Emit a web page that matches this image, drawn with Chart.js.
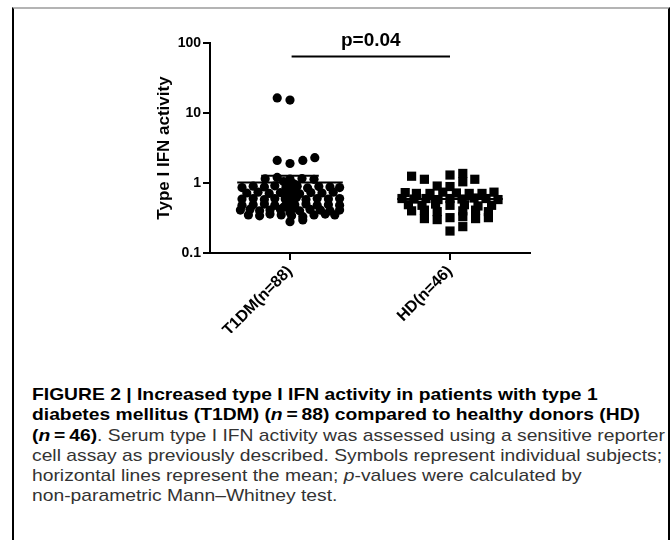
<!DOCTYPE html>
<html>
<head>
<meta charset="utf-8">
<script src="https://cdn.jsdelivr.net/npm/chart.js@4.4.1/dist/chart.umd.min.js"></script>
<style>
  html, body { margin: 0; padding: 0; background: #fff; }
  body { width: 671px; height: 540px; position: relative; overflow: hidden; }
  #frame {
    position: absolute; left: 12px; top: 7px; width: 658px; height: 540px;
    box-sizing: border-box;
    border-left: 2px solid #000; border-right: 2px solid #000; border-top: 2px solid #b4b4b4;
  }
  #wrap { position: absolute; left: 0; top: 0; width: 671px; height: 340px; }
  #caption {
    position: absolute; left: 32px; top: 385px;
    font-family: "Liberation Sans", Arial, sans-serif;
    font-size: 17px; line-height: 20.3px; color: #333; white-space: nowrap;
    transform-origin: 0 0;
  }
  #caption b { color: #000; }
  #caption span { display: inline-block; }
</style>
</head>
<body>
<div id="frame"></div>
<div id="wrap"><canvas id="chart-ifn"></canvas></div>
<div id="caption">
<span><b>FIGURE 2 | Increased type I IFN activity in patients with type 1</b></span><br>
<span><b>diabetes mellitus (T1DM) (<i>n</i>&#8201;=&#8201;88) compared to healthy donors (HD)</b></span><br>
<span><b>(<i>n</i>&#8201;=&#8201;46)</b>. Serum type I IFN activity was assessed using a sensitive reporter</span><br>
<span id="ref-line">cell assay as previously described. Symbols represent individual subjects;</span><br>
<span>horizontal lines represent the mean; <i>p</i>-values were calculated by</span><br>
<span>non-parametric Mann&ndash;Whitney test.</span>
</div>
<script>
//------------------------------------------- data -------------------------------------------
const groups = ['T1DM(n=88)', 'HD(n=46)'];
const groupPos = [0.5, 1.5];
const yTicks = [0.1, 1, 10, 100];

// T1DM subjects: spread around the column (x) and activity (y)
const t1dmSpread = [
    -0.08, 0,
    -0.08, 0, 0.08, 0.155,
    -0.155, -0.08, 0, 0.075, 0.15,
    -0.30, -0.23, -0.16, -0.095, -0.025, 0.045, 0.11, 0.18, 0.25, 0.31,
    -0.27, -0.20, -0.13, -0.06, 0, 0.06, 0.13, 0.20, 0.27,
    -0.30, -0.23, -0.16, -0.095, -0.03, 0.03, 0.10, 0.17, 0.24, 0.31,
    -0.30, -0.23, -0.16, -0.095, -0.03, 0.03, 0.10, 0.17, 0.24, 0.31,
    -0.31, -0.25, -0.19, -0.125, -0.06, 0, 0.06, 0.125, 0.19, 0.25, 0.31,
    -0.26, -0.19, -0.125, -0.055, 0.01, 0.08, 0.15, 0.22, 0.28,
    0, 0.08,
    -0.04, 0.02, 0.04, -0.02, 0.03, -0.03, 0.04, 0, 0.02, -0.04, 0.03, 0, 0.01, -0.01, 0.04, 0.02
];
const t1dmValues = [
    16.4, 15.3,
    2.1, 1.9, 2.1, 2.3,
    1.15, 1.2, 1.14, 1.16, 1.13,
    0.86, 0.9, 0.88, 0.91, 0.87, 0.9, 0.85, 0.89, 0.88, 0.86,
    0.72, 0.74, 0.71, 0.73, 0.72, 0.7, 0.73, 0.72, 0.74,
    0.59, 0.6, 0.58, 0.6, 0.59, 0.61, 0.58, 0.6, 0.59, 0.6,
    0.48, 0.49, 0.5, 0.48, 0.47, 0.49, 0.5, 0.48, 0.49, 0.48,
    0.41, 0.42, 0.4, 0.41, 0.42, 0.41, 0.4, 0.42, 0.41, 0.4, 0.41,
    0.35, 0.34, 0.36, 0.35, 0.34, 0.33, 0.35, 0.36, 0.35,
    0.28, 0.296,
    1.05, 0.98, 0.93, 0.82, 0.78, 0.68, 0.65, 0.55, 0.52, 0.45, 0.44, 0.38, 0.95, 0.8, 0.62, 0.5
];

// healthy donors
const hdSpread = [
    -0.24, -0.16, 0, 0.08, 0.08, 0.155, -0.08, 0,
    -0.28, -0.21, -0.125, -0.045, 0.04, 0.12, 0.20, 0.275,
    -0.30, -0.225, -0.15, -0.075, 0, 0.075, 0.15, 0.225, 0.30,
    -0.26, -0.175, -0.09, 0, 0.09, 0.175, 0.26,
    -0.24, -0.16, -0.08, 0.08, 0.16, 0.24,
    -0.16, -0.08, 0, 0.08, 0.16, 0.24,
    0, 0.08
];
const hdValues = [
    1.25, 1.13, 1.30, 1.37, 1.04, 1.13, 0.905, 0.89,
    0.73, 0.71, 0.71, 0.74, 0.72, 0.71, 0.71, 0.74,
    0.6, 0.59, 0.6, 0.58, 0.6, 0.59, 0.61, 0.6, 0.58,
    0.49, 0.48, 0.5, 0.48, 0.49, 0.47, 0.48,
    0.4, 0.41, 0.39, 0.4, 0.41, 0.39,
    0.31, 0.3, 0.32, 0.33, 0.31, 0.32,
    0.206, 0.238
];

const meanValues = [1.02, 0.59];
const semUpper = 1.27;     // T1DM mean + SEM
const pText = 'p=0.04';
const pLevel = 64;

//------------------------------------------- caption -------------------------------------------
// fit the caption to the printed line length
var refLine = document.getElementById('ref-line');
var caption = document.getElementById('caption');
caption.style.transform = 'scaleX(' + (630 / refLine.getBoundingClientRect().width) + ')';

//------------------------------------------- chart -------------------------------------------
function toPoints(center, spread, values) {
    return values.map((v, i) => ({ x: center + spread[i], y: v }));
}
function hline(x0, x1, y) {
    return [{ x: x0, y: y }, { x: x1, y: y }];
}

Chart.defaults.font.family = '"Liberation Sans", Arial, sans-serif';
Chart.defaults.color = '#000';

const lineStyle = { type: 'line', borderColor: '#000', borderWidth: 2, pointRadius: 0, fill: false, showLine: true };

const pLabel = {
    id: 'pLabel',
    afterDraw(chart) {
        const ctx = chart.ctx;
        const xs = chart.scales.x, ys = chart.scales.y;
        ctx.save();
        ctx.font = 'bold 19px "Liberation Sans", Arial, sans-serif';
        ctx.fillStyle = '#000';
        ctx.textAlign = 'center';
        ctx.textBaseline = 'alphabetic';
        ctx.fillText(pText, xs.getPixelForValue(1.005), ys.getPixelForValue(pLevel) - 11);
        ctx.restore();
    }
};

var ifn = document.getElementById('chart-ifn').getContext('2d');
var chart_ifn = new Chart(ifn, {
    type: 'scatter',
    data: {
        datasets: [
            Object.assign({ data: hline(groupPos[0] - 0.33, groupPos[0] + 0.33, meanValues[0]) }, lineStyle),
            Object.assign({ data: hline(groupPos[0] - 0.18, groupPos[0] + 0.18, semUpper) }, lineStyle),
            Object.assign({ data: hline(groupPos[1] - 0.33, groupPos[1] + 0.33, meanValues[1]) }, lineStyle),
            Object.assign({ data: hline(groupPos[0] + 0.01, groupPos[1], pLevel) }, lineStyle),
            {
                label: groups[0],
                data: toPoints(groupPos[0], t1dmSpread, t1dmValues),
                pointStyle: 'circle',
                pointRadius: 4.6,
                borderWidth: 0,
                backgroundColor: '#000'
            },
            {
                label: groups[1],
                data: toPoints(groupPos[1], hdSpread, hdValues),
                pointStyle: 'rect',
                pointRadius: 6.5,
                borderWidth: 0,
                backgroundColor: '#000'
            }
        ]
    },
    options: {
        responsive: true,
        maintainAspectRatio: false,
        animation: false,
        layout: { padding: { left: 150, right: 141, top: 43, bottom: 7 } },
        plugins: { legend: { display: false }, tooltip: { enabled: false } },
        scales: {
            x: {
                type: 'linear',
                min: 0,
                max: 2,
                afterBuildTicks: (s) => { s.ticks = groupPos.map(v => ({ value: v })); },
                afterFit: (s) => { s.height = 80; },
                ticks: {
                    minRotation: 45,
                    maxRotation: 45,
                    padding: 2,
                    font: { size: 16, weight: 'bold' },
                    callback: (v, i) => groups[i]
                },
                grid: { drawOnChartArea: false, color: '#000', lineWidth: 2, tickLength: 7 },
                border: { color: '#000', width: 2 }
            },
            y: {
                type: 'logarithmic',
                min: 0.1,
                max: 100,
                afterBuildTicks: (s) => { s.ticks = yTicks.map(v => ({ value: v })); },
                afterFit: (s) => { s.width = 60; },
                ticks: {
                    padding: 2,
                    font: { size: 14, weight: 'bold' },
                    callback: (v) => String(v)
                },
                grid: { drawOnChartArea: false, color: '#000', lineWidth: 2, tickLength: 7 },
                border: { color: '#000', width: 2 },
                title: {
                    display: true,
                    text: 'Type I IFN activity',
                    font: { size: 17, weight: 'bold' }
                }
            }
        }
    },
    plugins: [pLabel]
});
</script>
</body>
</html>
